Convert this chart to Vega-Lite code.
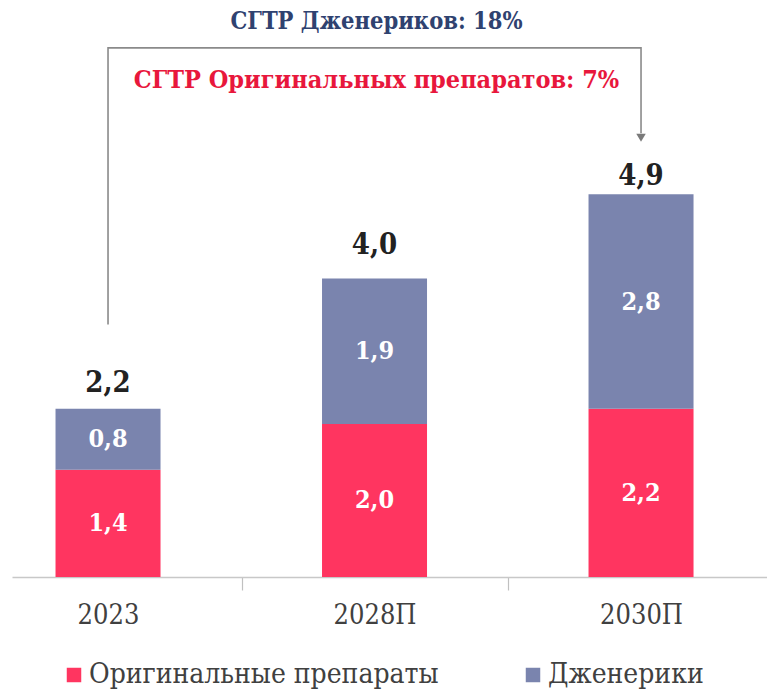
{
  "$schema": "https://vega.github.io/schema/vega-lite/v6.json",
  "width": 755,
  "height": 577,
  "padding": {"left": 12, "top": 0, "right": 0, "bottom": 113},
  "autosize": {"type": "none"},
  "background": "white",
  "config": {
    "view": {"stroke": null},
    "font": "DejaVu Serif Condensed",
    "locale": {"number": {"decimal": ",", "thousands": " ", "grouping": [3], "currency": ["", ""]}}
  },
  "datasets": {
    "bars": [
      {"year": "2023", "series": "Оригинальные препараты", "value": 1.4},
      {"year": "2023", "series": "Дженерики", "value": 0.8},
      {"year": "2028П", "series": "Оригинальные препараты", "value": 2.0},
      {"year": "2028П", "series": "Дженерики", "value": 1.9},
      {"year": "2030П", "series": "Оригинальные препараты", "value": 2.2},
      {"year": "2030П", "series": "Дженерики", "value": 2.8}
    ],
    "totals": [
      {"year": "2023", "total": 2.2, "label": "2,2"},
      {"year": "2028П", "total": 4.0, "label": "4,0"},
      {"year": "2030П", "total": 4.9, "label": "4,9"}
    ],
    "arrow": [
      {"year": "2023", "v": 3.3, "ord": 1},
      {"year": "2023", "v": 6.915, "ord": 2},
      {"year": "2030П", "v": 6.915, "ord": 3},
      {"year": "2030П", "v": 5.8, "ord": 4}
    ],
    "head": [{"year": "2030П", "v": 5.74}],
    "notes": [
      {"year": "2028П", "v": 7.255, "text": "СГТР Дженериков: 18%", "kind": "gen"},
      {"year": "2028П", "v": 6.5, "text": "СГТР Оригинальных препаратов: 7%", "kind": "orig"}
    ]
  },
  "encoding": {
    "x": {
      "field": "year", "type": "nominal", "sort": ["2023", "2028П", "2030П"],
      "scale": {"paddingInner": 0.606, "paddingOuter": 0.2195, "align": 0.372},
      "axis": {
        "title": null, "labelAngle": 0, "domainColor": "#c8c8c8", "domainWidth": 1.5,
        "ticks": true, "tickColor": "#c0c0c0", "tickWidth": 1.2, "tickSize": 13, "tickOffset": -133,
        "labelOffset": 133,
        "labelFontSize": 27, "labelColor": "#404040", "labelFont": "DejaVu Serif Condensed",
        "labelBaseline": "middle", "labelPadding": 25
      }
    }
  },
  "layer": [
    {
      "data": {"name": "bars"},
      "mark": {"type": "bar"},
      "encoding": {
        "y": {"field": "value", "type": "quantitative", "stack": "zero",
              "scale": {"domain": [0, 7.54], "nice": false, "zero": true}, "axis": null},
        "color": {
          "field": "series", "type": "nominal",
          "scale": {"domain": ["Оригинальные препараты", "Дженерики"], "range": ["#ff3560", "#7a84ae"]},
          "legend": {
            "title": null, "orient": "none", "direction": "horizontal",
            "legendX": 48, "legendY": 661, "symbolType": "square", "symbolSize": 210,
            "symbolStrokeWidth": 0, "labelFontSize": 28, "labelColor": "#404040",
            "labelFont": "DejaVu Serif Condensed", "labelLimit": 500, "labelOffset": 1,
            "columnPadding": 80
          }
        },
        "order": {"field": "series", "sort": "descending"}
      }
    },
    {
      "data": {"name": "bars"},
      "mark": {"type": "text", "color": "white", "fontSize": 25, "fontWeight": "bold", "baseline": "middle"},
      "encoding": {
        "y": {"field": "value", "type": "quantitative", "stack": "zero", "bandPosition": 0.5},
        "detail": {"field": "series"},
        "order": {"field": "series", "sort": "descending"},
        "text": {"field": "value", "type": "quantitative", "format": ".1f"}
      }
    },
    {
      "data": {"name": "totals"},
      "mark": {"type": "text", "color": "#222222", "fontSize": 29, "fontWeight": "bold", "baseline": "middle", "dy": -26},
      "encoding": {
        "y": {"field": "total", "type": "quantitative"},
        "text": {"field": "label"}
      }
    },
    {
      "data": {"name": "arrow"},
      "mark": {"type": "line", "color": "#8a8a8a", "strokeWidth": 1.6},
      "encoding": {
        "y": {"field": "v", "type": "quantitative"},
        "order": {"field": "ord"}
      }
    },
    {
      "data": {"name": "head"},
      "mark": {"type": "point", "shape": "triangle-down", "filled": true, "color": "#7a7a7a", "size": 90, "opacity": 1},
      "encoding": {
        "y": {"field": "v", "type": "quantitative"}
      }
    },
    {
      "data": {"name": "notes"},
      "mark": {"type": "text", "fontWeight": "bold", "baseline": "middle", "dx": 2},
      "encoding": {
        "y": {"field": "v", "type": "quantitative"},
        "text": {"field": "text"},
        "size": {"field": "kind", "type": "nominal", "scale": {"domain": ["gen", "orig"], "range": [23.5, 25]}, "legend": null},
        "color": {"field": "kind", "type": "nominal", "scale": {"domain": ["gen", "orig"], "range": ["#2f4270", "#e8173c"]}, "legend": null}
      }
    }
  ],
  "resolve": {"scale": {"color": "independent"}}
}
